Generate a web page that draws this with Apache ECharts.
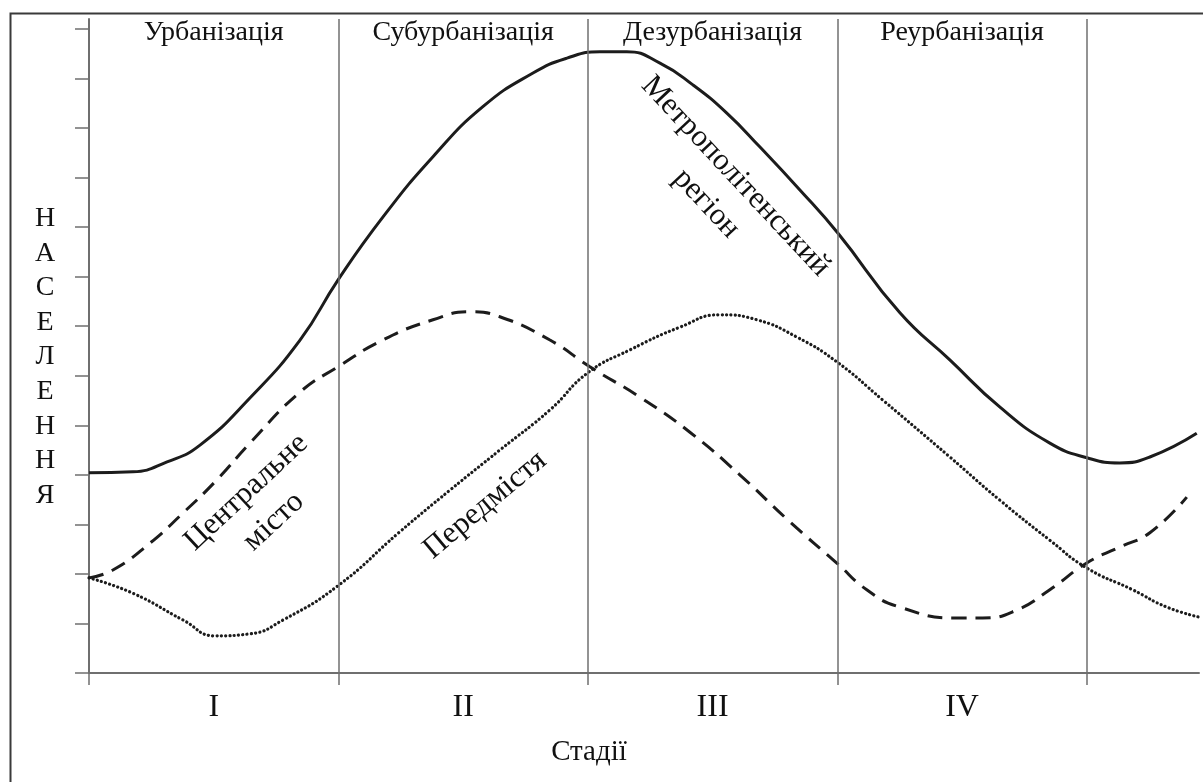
<!DOCTYPE html>
<html>
<head>
<meta charset="utf-8">
<script src="https://cdn.jsdelivr.net/npm/echarts@6/dist/echarts.min.js"></script>
<style>
html,body{margin:0;padding:0;background:#fff;}
#chart{width:1203px;height:782px;}
</style>
</head>
<body>
<div id="chart"></div>
<script>
// ---- Data (x in stage units, y in population tick units) ----
var stageNames = ['Урбанізація', 'Субурбанізація', 'Дезурбанізація', 'Реурбанізація'];
var stageLabels = ['I', 'II', 'III', 'IV'];
var yTicks = [0,1,2,3,4,5,6,7,8,9,10,11,12,13];
var stageTicks = [0,1,2,3,4];
var stageCenters = [0.5,1.5,2.5,3.5];
var yTitle = 'НАСЕЛЕННЯ';
var xTitle = 'Стадії';

var metroX = [0, 0.176, 0.313, 0.445, 0.645, 0.846, 0.998, 1.178, 1.379, 1.579, 1.780, 1.916, 2.048, 2.156, 2.289, 2.421, 2.557, 2.689, 2.850, 3.002, 3.251, 3.451, 3.651, 3.852, 4.004, 4.132, 4.253, 4.441];
var metroY = [4.04, 4.06, 4.26, 4.60, 5.55, 6.72, 7.93, 9.20, 10.42, 11.43, 12.11, 12.41, 12.54, 12.54, 12.31, 11.87, 11.30, 10.62, 9.75, 8.88, 7.27, 6.32, 5.37, 4.64, 4.34, 4.24, 4.36, 4.84];

var cityX = [0, 0.096, 0.244, 0.377, 0.513, 0.645, 0.846, 0.998, 1.178, 1.379, 1.527, 1.647, 1.848, 2.008, 2.208, 2.409, 2.609, 2.810, 2.998, 3.118, 3.250, 3.479, 3.583, 3.719, 3.852, 4.000, 4.132, 4.253, 4.401];
var cityY = [1.92, 2.08, 2.62, 3.23, 3.90, 4.64, 5.67, 6.18, 6.72, 7.13, 7.29, 7.19, 6.72, 6.18, 5.57, 4.86, 4.00, 3.05, 2.22, 1.68, 1.33, 1.11, 1.11, 1.27, 1.68, 2.22, 2.54, 2.83, 3.55];

var suburbX = [0, 0.176, 0.377, 0.505, 0.646, 0.778, 0.998, 1.246, 1.447, 1.647, 1.848, 2.000, 2.168, 2.369, 2.529, 2.677, 2.838, 2.998, 3.182, 3.451, 3.651, 3.852, 4.000, 4.184, 4.321, 4.450];
var suburbY = [1.92, 1.61, 1.07, 0.75, 0.79, 1.07, 1.76, 2.85, 3.69, 4.50, 5.31, 6.06, 6.52, 6.98, 7.23, 7.13, 6.78, 6.28, 5.51, 4.36, 3.49, 2.68, 2.12, 1.68, 1.33, 1.13];

function pairs(xs, ys){ return xs.map(function(x,i){ return [x, ys[i]]; }); }

var serif = '"Liberation Serif", "DejaVu Serif", serif';
var ink = '#1c1c1c';
var axisGray = '#6f6f6f';

var chart = echarts.init(document.getElementById('chart'), null, {renderer:'canvas'});
var option = {
  backgroundColor: '#ffffff',
  animation: false,
  grid: {left: 89, right: 4, top: 19, bottom: 109, containLabel: false},
  xAxis: [{
    type: 'value', min: 0, max: 4.45, interval: 1, position: 'bottom',
    name: xTitle, nameLocation: 'middle', nameGap: 65,
    nameTextStyle: {fontFamily: serif, fontSize: 29, color: '#111', padding: [0, 110, 0, 0]},
    axisLine: {show: true, onZero: false, lineStyle: {color: axisGray, width: 2}},
    axisTick: {show: true, inside: false, length: 12, customValues: stageTicks, lineStyle: {color: axisGray, width: 1.5}},
    axisLabel: {show: true, customValues: stageCenters, margin: 19, fontFamily: serif, fontSize: 32, color: '#111',
      formatter: function(v){ return stageLabels[Math.floor(v)]; }},
    splitLine: {show: false}
  }, {
    type: 'value', min: 0, max: 4.45, interval: 1, position: 'top',
    axisLine: {show: false}, axisTick: {show: false},
    axisLabel: {show: true, inside: true, customValues: stageCenters, margin: 0, fontFamily: serif, fontSize: 28, color: '#111',
      formatter: function(v){ return stageNames[Math.floor(v)]; }},
    splitLine: {show: false}
  }],
  yAxis: {
    type: 'value', min: 0, max: 13.2, interval: 1,
    axisLine: {show: true, onZero: false, lineStyle: {color: axisGray, width: 2}},
    axisTick: {show: true, inside: false, length: 14, customValues: yTicks, lineStyle: {color: axisGray, width: 1.5}},
    axisLabel: {show: false},
    splitLine: {show: false}
  },
  series: [{
    name: 'Метрополітенський регіон', type: 'line', smooth: 0.5, symbol: 'none', silent: true,
    data: pairs(metroX, metroY),
    lineStyle: {color: ink, width: 3},
    markLine: {
      silent: true, symbol: 'none', label: {show: false},
      lineStyle: {color: axisGray, width: 1.5, type: 'solid'},
      data: [{xAxis: 1}, {xAxis: 2}, {xAxis: 3}, {xAxis: 4}]
    },
    z: 3
  }, {
    name: 'Центральне місто', type: 'line', smooth: 0.5, symbol: 'none', silent: true,
    data: pairs(cityX, cityY),
    lineStyle: {color: ink, width: 3, type: [15, 9]},
    z: 3
  }, {
    name: 'Передмістя', type: 'line', smooth: 0.5, symbol: 'none', silent: true,
    data: pairs(suburbX, suburbY),
    lineStyle: {color: ink, width: 3.2, type: [0.1, 4.2], cap: 'round'},
    z: 3
  }],
  graphic: [
    {type: 'rect', left: 8, top: 11, z: -1, silent: true,
     shape: {x: 0, y: 0, width: 1300, height: 900},
     style: {fill: 'none', stroke: '#3a3a3a', lineWidth: 2}},
    {type: 'text', x: 45, y: 357, silent: true,
     style: {text: yTitle.split('').join('\n'), font: '28px ' + serif, fill: '#111', align: 'center', verticalAlign: 'middle', lineHeight: 34.6}},
    {type: 'text', x: 260, y: 507, rotation: 43 * Math.PI / 180, silent: true,
     style: {text: 'Центральне\nмісто', font: '31px ' + serif, fill: '#111', align: 'center', verticalAlign: 'middle', lineHeight: 40}},
    {type: 'text', x: 485, y: 505, rotation: 40 * Math.PI / 180, silent: true,
     style: {text: 'Передмістя', font: '31px ' + serif, fill: '#111', align: 'center', verticalAlign: 'middle'}},
    {type: 'text', x: 721, y: 190, rotation: -47 * Math.PI / 180, silent: true,
     style: {text: 'Метрополітенський\nрегіон', font: '31px ' + serif, fill: '#111', align: 'center', verticalAlign: 'middle', lineHeight: 40}}
  ]
};
chart.setOption(option);
</script>
</body>
</html>
